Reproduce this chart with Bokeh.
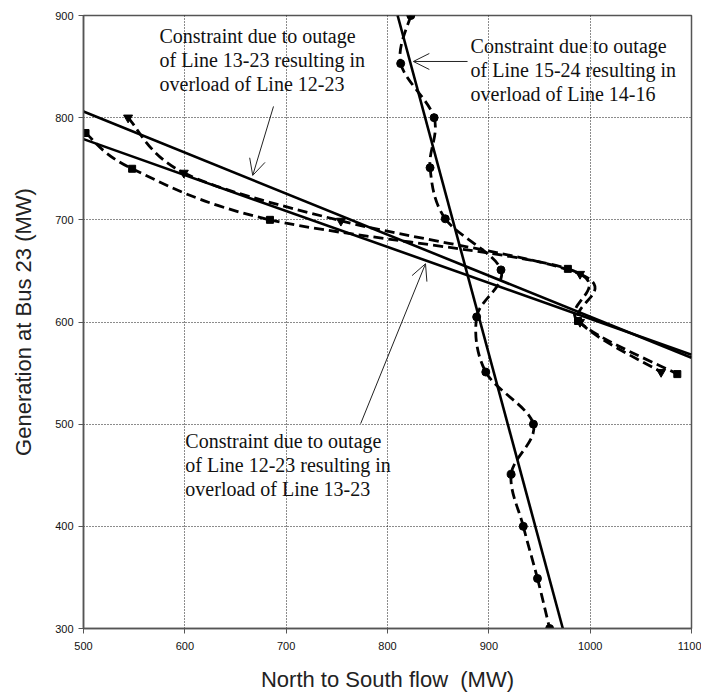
from bokeh.plotting import figure
from bokeh.models import Range1d, Label, Arrow, OpenHead, FixedTicker
from bokeh.embed import file_html
from bokeh.resources import INLINE

# Linear constraint boundaries (North-to-South flow in MW, generation at bus 23 in MW)
line_a_flow = [500, 1100]          # outage 13-23 -> overload 12-23
line_a_gen = [806, 565]
line_b_flow = [500, 1100]          # outage 12-23 -> overload 13-23
line_b_gen = [779, 568]
line_c_flow = [810, 973]           # outage 15-24 -> overload 14-16
line_c_gen = [900, 300]

# Simulated operating points (dashed curves)
circ_flow = [823, 813, 846, 842, 857, 912, 888, 897, 944, 922, 934, 948, 960]
circ_gen = [900, 853, 800, 751, 701, 651, 605, 551, 500, 451, 400, 349, 300]

tri_flow = [544, 599, 754, 990, 990, 1070]
tri_gen = [800, 746, 699, 647, 600, 551]

sq_flow = [502, 548, 684, 978, 988, 1086]
sq_gen = [785, 750, 700, 652, 601, 549]

x_ticks = [500, 600, 700, 800, 900, 1000, 1100]
y_ticks = [300, 400, 500, 600, 700, 800, 900]

label_a = ["Constraint due to outage", "of Line 13-23 resulting in", "overload of Line 12-23"]
label_c = ["Constraint due to outage", "of Line 15-24 resulting in", "overload of Line 14-16"]
label_b = ["Constraint due to outage", "of Line 12-23 resulting in", "overload of Line 13-23"]

p = figure(width=701, height=695, output_backend="svg", toolbar_location=None,
           x_range=Range1d(500, 1100), y_range=Range1d(300, 900),
           min_border_left=83, min_border_right=10, min_border_top=15, min_border_bottom=67)

p.background_fill_color = "white"
p.border_fill_color = "white"
p.outline_line_color = "#555555"
p.outline_line_width = 1.5

for ax, ticks in ((p.xaxis, x_ticks), (p.yaxis, y_ticks)):
    ax.ticker = FixedTicker(ticks=ticks)
    ax.minor_tick_line_color = None
    ax.major_tick_in = 0
    ax.major_tick_out = 5
    ax.axis_line_color = "#555555"
    ax.axis_line_width = 1.5
    ax.major_tick_line_color = "#555555"
    ax.major_label_text_font = "Liberation Sans"
    ax.major_label_text_font_size = "11px"
    ax.major_label_text_color = "#111111"
    ax.axis_label_text_font = "Liberation Sans"
    ax.axis_label_text_font_size = "22px"
    ax.axis_label_text_font_style = "normal"
    ax.axis_label_text_color = "#222222"

p.xaxis.axis_label = "North to South flow\u00a0\u00a0(MW)"
p.yaxis.axis_label = "Generation at Bus 23 (MW)"
p.xaxis.major_label_standoff = 8
p.yaxis.major_label_standoff = 5
p.xaxis.axis_label_standoff = 14
p.yaxis.axis_label_standoff = 16

for g in (p.xgrid, p.ygrid):
    g.grid_line_color = "#000000"
    g.grid_line_dash = "1 2"
    g.grid_line_width = 1
    g.grid_line_alpha = 0.9
p.xgrid.ticker = FixedTicker(ticks=x_ticks)
p.ygrid.ticker = FixedTicker(ticks=y_ticks)


def smooth_segments(xs, ys, k=6.0):
    """Cubic Bezier pieces through the given points (Catmull-Rom style tangents)."""
    n = len(xs)
    out = dict(x0=[], y0=[], x1=[], y1=[], cx0=[], cy0=[], cx1=[], cy1=[])
    for i in range(n - 1):
        i0 = max(i - 1, 0)
        i3 = min(i + 2, n - 1)
        out["x0"].append(xs[i]); out["y0"].append(ys[i])
        out["x1"].append(xs[i + 1]); out["y1"].append(ys[i + 1])
        out["cx0"].append(xs[i] + (xs[i + 1] - xs[i0]) / k)
        out["cy0"].append(ys[i] + (ys[i + 1] - ys[i0]) / k)
        out["cx1"].append(xs[i + 1] - (xs[i3] - xs[i]) / k)
        out["cy1"].append(ys[i + 1] - (ys[i3] - ys[i]) / k)
    return out


for xs, ys, marker, size in ((circ_flow, circ_gen, "circle", 8),
                             (tri_flow, tri_gen, "inverted_triangle", 9),
                             (sq_flow, sq_gen, "square", 7)):
    seg = smooth_segments(xs, ys)
    p.bezier(x0=seg["x0"], y0=seg["y0"], x1=seg["x1"], y1=seg["y1"],
             cx0=seg["cx0"], cy0=seg["cy0"], cx1=seg["cx1"], cy1=seg["cy1"],
             line_color="black", line_width=2.8, line_dash="10 5")
    p.scatter(xs, ys, marker=marker, size=size, color="black")

for xs, ys in ((line_a_flow, line_a_gen), (line_b_flow, line_b_gen), (line_c_flow, line_c_gen)):
    p.line(xs, ys, line_color="black", line_width=2.6)

# Annotation text blocks (left edge and first baseline in data units, 23.5 MW line step)
def add_block(lines, x, y0, step=23.5):
    for i, t in enumerate(lines):
        p.add_layout(Label(x=x, y=y0 - i * step, text=t, text_font="Liberation Serif",
                           text_font_size="20px", text_color="#111111",
                           text_baseline="alphabetic", text_align="left"))

add_block(label_a, 575, 880)
add_block(label_c, 882, 870)
add_block(label_b, 600.5, 484)

# Pointer arrows from each text block to its constraint line
for xs, ys, xe, ye in ((687.5, 811, 667, 743.5),
                       (879, 855, 825.5, 855),
                       (773.5, 500.5, 837.5, 657)):
    p.add_layout(Arrow(x_start=xs, y_start=ys, x_end=xe, y_end=ye,
                       line_color="#222222", line_width=1,
                       end=OpenHead(size=16, line_color="#222222", line_width=1)))

open("out.html", "w").write(file_html(p, INLINE))
